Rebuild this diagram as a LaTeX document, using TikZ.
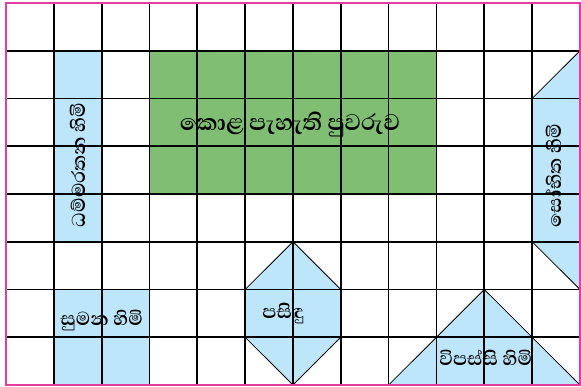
\documentclass[tikz,border=0pt]{standalone}
\usepackage{fontspec}
\newfontfamily\sinhala[Script=Sinhala]{Abhaya Libre}
\definecolor{deskblue}{RGB}{190,230,250}
\definecolor{boardgreen}{RGB}{128,190,115}
\definecolor{edgepink}{RGB}{228,60,160}
\tikzset{
  deskfill/.style={fill=deskblue},
  boardfill/.style={fill=boardgreen},
  gridline/.style={black,line width=1.7pt},
  shapeedge/.style={black,line width=0.8pt},
  outerframe/.style={draw=edgepink,line width=1.4pt},
  label/.style={font=\sinhala\bfseries\fontsize{24}{28}\selectfont,inner sep=0pt},
  biglabel/.style={font=\sinhala\bfseries\fontsize{29}{33}\selectfont,inner sep=0pt}
}
\begin{document}
\begin{tikzpicture}[x=1pt,y=-1pt]
\useasboundingbox (0,0) rectangle (581,387);
\begin{scope}[shift={(6pt,-3pt)},x=47.83pt,y=-47.75pt]
  % fills
  \fill[deskfill] (1,1) rectangle (2,5);
  \fill[boardfill] (3,1) rectangle (9,4);
  \fill[deskfill] (11,2) -- (12,1) -- (12,2) -- cycle;
  \fill[deskfill] (11,2) rectangle (12,5);
  \fill[deskfill] (11,5) -- (12,5) -- (12,6) -- cycle;
  \fill[deskfill] (1,6) rectangle (3,8);
  \fill[deskfill] (6,5) -- (7,6) -- (7,7) -- (6,8) -- (5,7) -- (5,6) -- cycle;
  \fill[deskfill] (10,6) -- (12,8) -- (8,8) -- cycle;
  % grid
  \foreach \i in {1,...,11} \draw[gridline] (\i,0) -- (\i,8);
  \foreach \j in {1,...,7} \draw[gridline] (0,\j) -- (12,\j);
  % diagonal edges
  \draw[shapeedge] (11,2) -- (12,1);
  \draw[shapeedge] (11,5) -- (12,6);
  \draw[shapeedge] (6,5) -- (7,6) (7,7) -- (6,8) -- (5,7) (5,6) -- (6,5);
  \draw[shapeedge] (8,8) -- (10,6) -- (12,8);
  % frame
  \draw[outerframe] (0,0) rectangle (12,8);
  % labels
  \node[biglabel] (board) at (5.94,2.55) {කොළ පැහැති පුවරුව};
  \node[label,rotate=90] (dhamma) at (1.5,3.39) {ධම්මරතන හිමි};
  \node[label,rotate=90] (sobhita) at (11.45,3.62) {සෝභිත හිමි};
  \node[label] (sumana) at (2,6.64) {සුමන හිමි};
  \node[label] (pasindu) at (5.8,6.5) {පසිඳු};
  \node[label] (vipassi) at (10.03,7.42) {විපස්සි හිමි};
\end{scope}
\end{tikzpicture}
\end{document}
